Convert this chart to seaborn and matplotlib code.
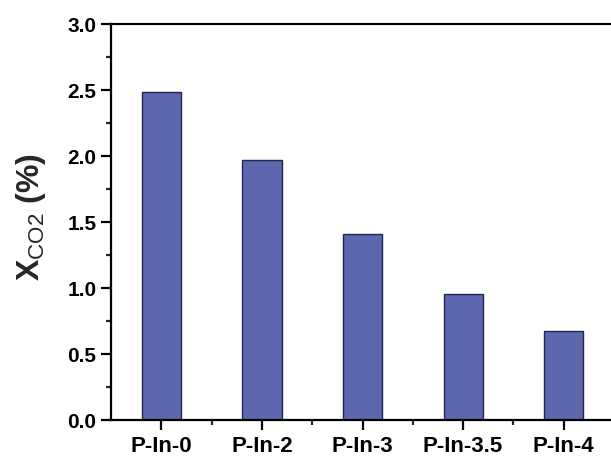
import numpy as np
import pandas as pd
import matplotlib
matplotlib.use('Agg')
import matplotlib.pyplot as plt
import seaborn as sns
from matplotlib.ticker import MultipleLocator, FixedLocator

samples = ['P-In-0', 'P-In-2', 'P-In-3', 'P-In-3.5', 'P-In-4']
xco2 = [2.48, 1.97, 1.41, 0.95, 0.67]
yticks = [0.0, 0.5, 1.0, 1.5, 2.0, 2.5, 3.0]

df = pd.DataFrame({'sample': samples, 'xco2': xco2})

sns.set_style('ticks')
plt.rcParams['font.family'] = ['Liberation Sans', 'DejaVu Sans']
plt.rcParams['mathtext.fontset'] = 'custom'
plt.rcParams['mathtext.rm'] = 'Liberation Sans'
plt.rcParams['mathtext.bf'] = 'Liberation Sans:bold'

fig = plt.figure(figsize=(6.11, 4.64), dpi=100)
ax = fig.add_axes([0.1817, 0.0927, 0.8183, 0.8541])

sns.barplot(data=df, x='sample', y='xco2', color='#5c67b0', saturation=1,
            width=0.39, edgecolor='#23254a', linewidth=1.0, ax=ax)

ax.set_xlim(-0.5, 4.47)
ax.set_ylim(0, 3.0)
ax.set_yticks(yticks)
ax.set_yticklabels(['%.1f' % v for v in yticks], fontsize=15, fontweight='bold')
ax.yaxis.set_minor_locator(MultipleLocator(0.25))
ax.xaxis.set_minor_locator(FixedLocator([0.5, 1.5, 2.5, 3.5]))
ax.set_xticks(range(len(samples)))
ax.set_xticklabels(samples, fontsize=16, fontweight='bold')

ax.set_xlabel('')
ax.set_ylabel(r'$\mathbf{X}_{\mathrm{CO2}}$ (%)', fontsize=23, fontweight='bold')
ax.yaxis.set_label_coords(-0.126, 0.515)

for s in ['left', 'bottom', 'top']:
    ax.spines[s].set_linewidth(1.6)
    ax.spines[s].set_color('black')
ax.spines['right'].set_visible(False)
ax.spines['top'].set_visible(True)

ax.tick_params(which='major', direction='out', length=7.5, width=1.6, pad=3, colors='black')
ax.tick_params(which='minor', direction='out', length=3.8, width=1.6)

fig.savefig('out.png', dpi=100)
